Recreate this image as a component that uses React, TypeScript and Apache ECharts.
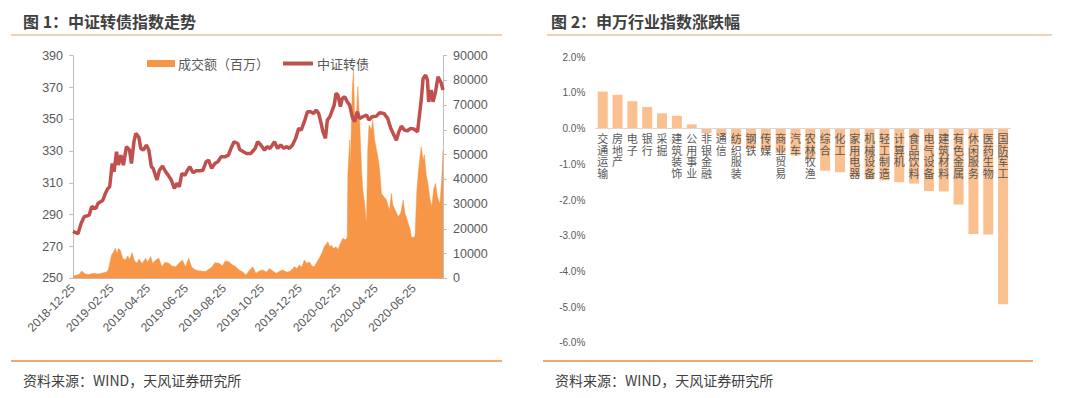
import React, { useEffect, useRef } from "react";
import * as echarts from "echarts";

// ---------- Figure 1 data ----------
const axisStartDate = "2018-12-25";
const axisEndDate = "2020-08-11";
const dateTickLabels = [
  "2018-12-25", "2019-02-25", "2019-04-25", "2019-06-25", "2019-08-25",
  "2019-10-25", "2019-12-25", "2020-02-25", "2020-04-25", "2020-06-25",
];

const indexDates = [
  "2018-12-25", "2019-01-02", "2019-01-07", "2019-01-12", "2019-01-20", "2019-01-24", "2019-01-31",
  "2019-02-03", "2019-02-11", "2019-02-15", "2019-02-19", "2019-02-22", "2019-02-26", "2019-03-01",
  "2019-03-05", "2019-03-08", "2019-03-12", "2019-03-16", "2019-03-21", "2019-03-26", "2019-03-29",
  "2019-04-02", "2019-04-05", "2019-04-10", "2019-04-13", "2019-04-17", "2019-04-22", "2019-04-26",
  "2019-04-30", "2019-05-03", "2019-05-09", "2019-05-13", "2019-05-18", "2019-05-23", "2019-05-27",
  "2019-06-01", "2019-06-06", "2019-06-10", "2019-06-14", "2019-06-18", "2019-06-23", "2019-06-27",
  "2019-07-01", "2019-07-06", "2019-07-11", "2019-07-17", "2019-07-22", "2019-07-27", "2019-07-31",
  "2019-08-05", "2019-08-10", "2019-08-15", "2019-08-20", "2019-08-26", "2019-09-01", "2019-09-05",
  "2019-09-10", "2019-09-16", "2019-09-19", "2019-09-25", "2019-09-30", "2019-10-07", "2019-10-14",
  "2019-10-18", "2019-10-23", "2019-10-29", "2019-11-02", "2019-11-07", "2019-11-14", "2019-11-19",
  "2019-11-24", "2019-11-29", "2019-12-03", "2019-12-08", "2019-12-13", "2019-12-18", "2019-12-23",
  "2019-12-27", "2020-01-01", "2020-01-06", "2020-01-11", "2020-01-16", "2020-01-20", "2020-01-24",
  "2020-01-28", "2020-01-31", "2020-02-04", "2020-02-07", "2020-02-11", "2020-02-15", "2020-02-18",
  "2020-02-21", "2020-02-24", "2020-02-28", "2020-03-02", "2020-03-06", "2020-03-10", "2020-03-14",
  "2020-03-18", "2020-03-22", "2020-03-26", "2020-03-30", "2020-04-04", "2020-04-10", "2020-04-14",
  "2020-04-19", "2020-04-26", "2020-05-01", "2020-05-08", "2020-05-14", "2020-05-19", "2020-05-24",
  "2020-05-28", "2020-06-01", "2020-06-05", "2020-06-10", "2020-06-15", "2020-06-20", "2020-06-26",
  "2020-07-01", "2020-07-07", "2020-07-10", "2020-07-14", "2020-07-17", "2020-07-19", "2020-07-23",
  "2020-07-26", "2020-07-30", "2020-08-03", "2020-08-08", "2020-08-11",
];
const indexValues = [
  279.5, 278, 284.5, 288.7, 289.7, 295, 294,
  297, 299.1, 303.3, 306.5, 307.5, 322.2, 317,
  329.6, 321.2, 327.5, 321.2, 332.8, 330.6, 322.2,
  335.9, 341.1, 338.6, 331.7, 330.6, 333.8, 330.6,
  320.2, 319.1, 311.8, 318, 320.6, 317, 314.9,
  311.8, 306.5, 309.7, 307.6, 315.9, 314.9, 318,
  320.2, 316.4, 317.6, 317.6, 318, 323.3, 324.3,
  319.1, 322.2, 323.3, 326.4, 326.4, 327.5, 331.7,
  335.9, 334.8, 331, 329.6, 328.5, 328.5, 331.7,
  335.9, 333.8, 330.6, 332.8, 331.7, 335.9, 331.7,
  333.8, 331.7, 332.8, 331.7, 333.8, 338, 344.3,
  343.2, 348.5, 354.8, 354.8, 353.7, 355.8, 353.7,
  347.4, 342.1, 338, 349.5, 351.6, 355.8, 358.9,
  366.3, 365.2, 357.9, 363.1, 364.2, 361, 358.9,
  351.6, 348.5, 354.8, 350.6, 351.6, 352.7, 349.5,
  351.6, 352, 354.1, 353.7, 350.6, 344.3, 340.1,
  336.9, 342.1, 345.7, 343.2, 342.8, 344.3, 343.7,
  342.1, 362.1, 375.7, 377.8, 374.7, 361, 368.4,
  361, 367.3, 376.8, 373, 368.4,
];

const volumeDates = [
  "2018-12-25", "2018-12-31", "2019-01-04", "2019-01-08", "2019-01-13", "2019-01-19", "2019-01-27",
  "2019-02-04", "2019-02-12", "2019-02-17", "2019-02-20", "2019-02-25", "2019-02-28", "2019-03-03",
  "2019-03-06", "2019-03-08", "2019-03-11", "2019-03-15", "2019-03-19", "2019-03-23", "2019-03-26",
  "2019-03-30", "2019-04-03", "2019-04-07", "2019-04-10", "2019-04-15", "2019-04-21", "2019-04-24",
  "2019-04-29", "2019-05-02", "2019-05-07", "2019-05-12", "2019-05-17", "2019-05-22", "2019-05-28",
  "2019-06-02", "2019-06-08", "2019-06-13", "2019-06-19", "2019-06-24", "2019-06-29", "2019-07-04",
  "2019-07-10", "2019-07-17", "2019-07-26", "2019-08-01", "2019-08-06", "2019-08-10", "2019-08-17",
  "2019-08-22", "2019-08-27", "2019-09-02", "2019-09-07", "2019-09-13", "2019-09-18", "2019-09-24",
  "2019-09-29", "2019-10-04", "2019-10-10", "2019-10-15", "2019-10-21", "2019-10-26", "2019-11-01",
  "2019-11-06", "2019-11-11", "2019-11-17", "2019-11-22", "2019-11-27", "2019-12-03", "2019-12-08",
  "2019-12-12", "2019-12-16", "2019-12-20", "2019-12-24", "2019-12-28", "2020-01-01", "2020-01-05",
  "2020-01-09", "2020-01-13", "2020-01-17", "2020-01-21", "2020-01-25", "2020-01-29", "2020-02-02",
  "2020-02-08", "2020-02-11", "2020-02-13", "2020-02-17", "2020-02-21", "2020-02-24", "2020-02-27",
  "2020-03-03", "2020-03-07", "2020-03-10", "2020-03-11", "2020-03-14", "2020-03-15", "2020-03-18",
  "2020-03-20", "2020-03-22", "2020-03-25", "2020-03-27", "2020-03-30", "2020-04-02", "2020-04-04",
  "2020-04-07", "2020-04-10", "2020-04-12", "2020-04-14", "2020-04-18", "2020-04-20", "2020-04-23",
  "2020-04-26", "2020-04-29", "2020-05-01", "2020-05-04", "2020-05-08", "2020-05-12", "2020-05-15",
  "2020-05-17", "2020-05-20", "2020-05-22", "2020-05-26", "2020-05-31", "2020-06-04", "2020-06-08",
  "2020-06-11", "2020-06-13", "2020-06-16", "2020-06-19", "2020-06-21", "2020-06-24", "2020-06-27",
  "2020-06-30", "2020-07-02", "2020-07-05", "2020-07-07", "2020-07-10", "2020-07-12", "2020-07-15",
  "2020-07-18", "2020-07-21", "2020-07-24", "2020-07-27", "2020-07-30", "2020-08-02", "2020-08-06",
  "2020-08-09", "2020-08-11",
];
const volumeValues = [
  800, 1300, 1600, 3000, 1800, 1500, 2000,
  1700, 2200, 2500, 3600, 9400, 10500, 12100,
  10000, 12000, 11400, 8000, 7400, 9000, 7500,
  10400, 7000, 6200, 7800, 6000, 8100, 6500,
  8800, 6000, 7400, 8100, 4700, 6500, 6100,
  5000, 4700, 6000, 7400, 4700, 8100, 4500,
  3400, 3000, 2700, 3800, 4700, 6300, 6100,
  5000, 7000, 6700, 5500, 4700, 3400, 2500,
  1350, 3000, 4700, 2000, 3000, 3400, 2500,
  4000, 3000, 2000, 2800, 3400, 2500, 2700,
  3500, 4700, 4000, 5400, 4500, 7400, 6000,
  6700, 5000, 4700, 6500, 8100, 10000, 12800,
  14800, 12500, 13500, 12000, 12800, 11500, 13500,
  16200, 15500, 16500, 42400, 55900, 45000, 76000,
  84000, 66000, 67000, 77500, 62800, 44000, 36000,
  30000, 22200, 52000, 62000, 60000, 64000, 56000,
  52000, 48000, 44000, 34300, 33000, 31700, 29000,
  27600, 34300, 30000, 27600, 24900, 26300, 31700,
  26000, 24900, 22200, 20000, 16800, 16500, 17000,
  35500, 42000, 49200, 53200, 47900, 50000, 42000,
  38000, 32000, 29000, 36000, 38400, 33000, 30000,
  40000, 51900,
];

// ---------- Figure 2 data ----------
const industries = [
  "交通运输", "房地产", "电子", "银行", "采掘", "建筑装饰", "公用事业", "非银金融", "通信",
  "纺织服装", "钢铁", "传媒", "商业贸易", "汽车", "农林牧渔", "综合", "化工", "家用电器",
  "机械设备", "轻工制造", "计算机", "食品饮料", "电气设备", "建筑材料", "有色金属", "休闲服务",
  "医药生物", "国防军工",
];
const industryChanges = [
  1.04, 0.95, 0.77, 0.61, 0.43, 0.36, 0.12, -0.13, -0.2,
  -0.45, -0.55, -0.62, -0.68, -0.75, -0.85, -1.18, -1.22, -1.35,
  -1.42, -1.45, -1.5, -1.54, -1.75, -1.76, -2.13, -2.95,
  -2.97, -4.92,
];

const FONT = '"Liberation Sans", "Noto Sans CJK SC", sans-serif';
const CJK = '"Noto Sans CJK SC", "Liberation Sans", sans-serif';
const GRAY = "#595959";

function buildDailyCategories(start: string, end: string): string[] {
  const out: string[] = [];
  const s = new Date(start + "T00:00:00Z").getTime();
  const e = new Date(end + "T00:00:00Z").getTime();
  for (let t = s; t <= e; t += 86400000) {
    out.push(new Date(t).toISOString().slice(0, 10));
  }
  return out;
}

// Bar grid geometry (right panel)
const BAR_TOP = 57.3;
const BAR_BOTTOM_PX = 342.7;
const BAR_MIN = -6;
const BAR_MAX = 2;

export default function App() {
  const ref = useRef<HTMLDivElement>(null);

  useEffect(() => {
    if (!ref.current) return;
    const chart = echarts.init(ref.current, undefined, { renderer: "svg" });
    const days = buildDailyCategories(axisStartDate, axisEndDate);
    const tickSet = new Set(dateTickLabels);
    const zeroY = BAR_TOP + ((BAR_BOTTOM_PX - BAR_TOP) * BAR_MAX) / (BAR_MAX - BAR_MIN);
    const barAxisOffset = -(BAR_BOTTOM_PX - zeroY);

    const option: any = {
      animation: false,
      backgroundColor: "#ffffff",
      grid: [
        { left: 73, right: 637, top: 55.7, bottom: 119.7, containLabel: false },
        { left: 595.3, right: 69.5, top: BAR_TOP, bottom: 398 - BAR_BOTTOM_PX, containLabel: false },
      ],
      xAxis: [
        {
          type: "category",
          gridIndex: 0,
          data: days,
          boundaryGap: false,
          axisLine: { show: true, lineStyle: { color: "#BFBFBF", width: 1 } },
          axisTick: { show: false },
          axisLabel: {
            interval: (_i: number, v: string) => tickSet.has(v),
            rotate: 45,
            margin: 8,
            fontSize: 12,
            color: GRAY,
            fontFamily: FONT,
          },
          splitLine: { show: false },
        },
        {
          type: "category",
          gridIndex: 1,
          data: industries,
          z: 5,
          offset: barAxisOffset,
          axisLine: { show: true, onZero: false, lineStyle: { color: "#D9D9D9", width: 1 } },
          axisTick: { show: false },
          axisLabel: {
            interval: 0,
            margin: 4,
            fontSize: 11,
            lineHeight: 11.5,
            color: GRAY,
            fontFamily: CJK,
            verticalAlign: "top",
            formatter: (v: string) => v.split("").join("\n"),
          },
        },
      ],
      yAxis: [
        {
          type: "value",
          gridIndex: 0,
          min: 250,
          max: 390,
          interval: 20,
          axisLine: { show: true, lineStyle: { color: "#BFBFBF" } },
          axisTick: { show: true, length: 4, lineStyle: { color: "#BFBFBF" } },
          splitLine: { show: false },
          axisLabel: { fontSize: 12.5, color: GRAY, fontFamily: FONT, margin: 10, formatter: (v: number) => String(v) },
        },
        {
          type: "value",
          gridIndex: 0,
          position: "right",
          min: 0,
          max: 90000,
          interval: 10000,
          axisLine: { show: true, lineStyle: { color: "#BFBFBF" } },
          axisTick: { show: true, length: 4, lineStyle: { color: "#BFBFBF" } },
          splitLine: { show: false },
          axisLabel: { fontSize: 12.5, color: GRAY, fontFamily: FONT, margin: 10, formatter: (v: number) => String(v) },
        },
        {
          type: "value",
          gridIndex: 1,
          min: BAR_MIN,
          max: BAR_MAX,
          interval: 1,
          axisLine: { show: false },
          axisTick: { show: false },
          splitLine: { show: false },
          axisLabel: {
            fontSize: 10,
            color: GRAY,
            fontFamily: FONT,
            margin: 10,
            formatter: (v: number) => v.toFixed(1) + "%",
          },
        },
      ],
      series: [
        {
          name: "成交额（百万）",
          type: "line",
          xAxisIndex: 0,
          yAxisIndex: 1,
          data: volumeDates.map((d, i) => [d, volumeValues[i]]),
          symbol: "none",
          showSymbol: false,
          lineStyle: { width: 0.5, color: "#F79646" },
          areaStyle: { color: "#F79646", opacity: 1 },
          z: 2,
        },
        {
          name: "中证转债",
          type: "line",
          xAxisIndex: 0,
          yAxisIndex: 0,
          data: indexDates.map((d, i) => [d, indexValues[i]]),
          symbol: "none",
          showSymbol: false,
          lineStyle: { width: 3.5, color: "#C0504D" },
          z: 3,
        },
        {
          name: "涨跌幅",
          type: "bar",
          xAxisIndex: 1,
          yAxisIndex: 2,
          data: industryChanges,
          barWidth: 10,
          itemStyle: { color: "#FAC090" },
          z: 2,
        },
      ],
      graphic: [
        {
          type: "text", x: 23, y: 21,
          style: { text: "图 1：中证转债指数走势", font: `bold 16px ${CJK}`, fill: "#404040", verticalAlign: "middle" },
        },
        {
          type: "text", x: 551, y: 21,
          style: { text: "图 2：申万行业指数涨跌幅", font: `bold 16px ${CJK}`, fill: "#404040", verticalAlign: "middle" },
        },
        { type: "line", shape: { x1: 11, y1: 35, x2: 502, y2: 35 }, style: { stroke: "#E2A56E", lineWidth: 1.2 } },
        { type: "line", shape: { x1: 547, y1: 35, x2: 1052, y2: 35 }, style: { stroke: "#E2A56E", lineWidth: 1.2 } },
        { type: "line", shape: { x1: 11, y1: 361, x2: 502, y2: 361 }, style: { stroke: "#F0883A", lineWidth: 1.5 } },
        { type: "line", shape: { x1: 543, y1: 361, x2: 1033, y2: 361 }, style: { stroke: "#F0883A", lineWidth: 1.5 } },
        {
          type: "text", x: 23, y: 380,
          style: { text: "资料来源：WIND，天风证券研究所", font: `14px ${CJK}`, fill: "#404040", verticalAlign: "middle" },
        },
        {
          type: "text", x: 555, y: 380,
          style: { text: "资料来源：WIND，天风证券研究所", font: `14px ${CJK}`, fill: "#404040", verticalAlign: "middle" },
        },
        { type: "rect", shape: { x: 147, y: 60, width: 28, height: 7 }, style: { fill: "#F79646" } },
        {
          type: "text", x: 178, y: 63.5,
          style: { text: "成交额（百万）", font: `13px ${CJK}`, fill: GRAY, verticalAlign: "middle" },
        },
        { type: "line", shape: { x1: 283, y1: 63.5, x2: 313, y2: 63.5 }, style: { stroke: "#C0504D", lineWidth: 4 } },
        {
          type: "text", x: 317, y: 63.5,
          style: { text: "中证转债", font: `13px ${CJK}`, fill: GRAY, verticalAlign: "middle" },
        },
      ],
    };

    chart.setOption(option);
    return () => chart.dispose();
  }, []);

  return (
    <div
      ref={ref}
      style={{ position: "absolute", left: 0, top: 0, width: 1080, height: 398, background: "#fff" }}
    />
  );
}
